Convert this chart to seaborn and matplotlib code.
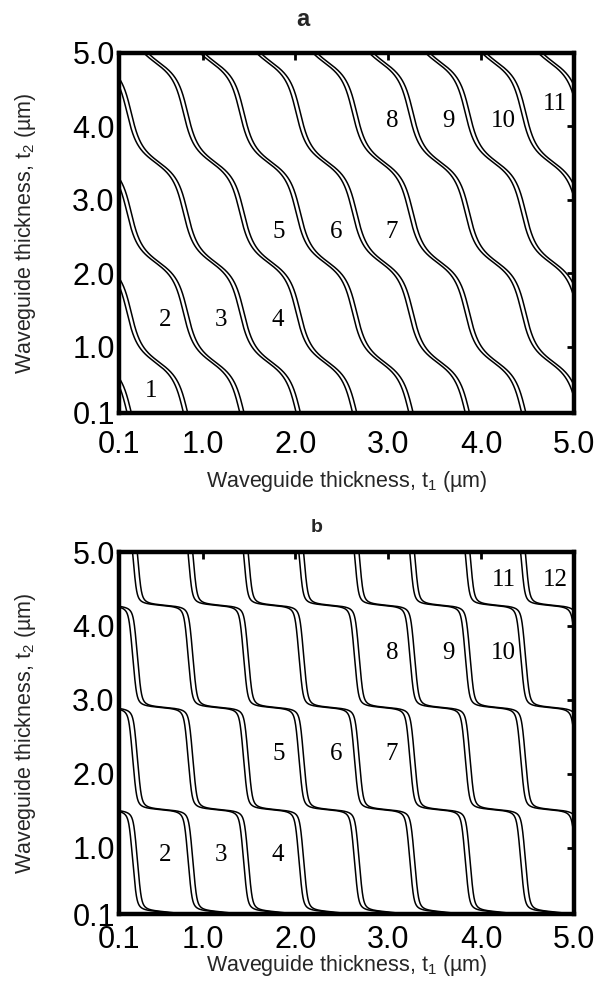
import numpy as np
import pandas as pd
import matplotlib
matplotlib.use("Agg")
import matplotlib.pyplot as plt
import seaborn as sns
import contourpy

# ---------------- data ----------------
tick_values = [0.1, 1.0, 2.0, 3.0, 4.0, 5.0]
tick_labels = ["0.1", "1.0", "2.0", "3.0", "4.0", "5.0"]

# panel a : mode boundaries (level n of the mode-count map)
a_levels = [0, 1, 2, 3, 4, 5, 6, 7, 8, 9, 10, 11]
a_pair_gap = 0.075           # splitting of each boundary into a line pair
a_period_t1 = 0.607          # um per mode in guide 1
a_offset_t1 = -0.095
a_period_t2 = 1.36           # um per mode in guide 2
a_step_t2 = 0.79
a_sharpness = 0.40
a_mix = 1.0
a_region_labels = ["1", "2", "3", "4", "5", "6", "7", "8", "9", "10", "11"]
a_label_t1 = [0.45, 0.60, 1.20, 1.815, 1.815, 2.435, 3.04, 3.04, 3.65, 4.24, 4.795]
a_label_t2 = [0.405, 1.37, 1.37, 1.37, 2.56, 2.56, 2.56, 4.07, 4.07, 4.07, 4.31]

# panel b
b_levels = [0, 1, 2, 3, 4, 5, 6, 7, 8, 9, 10, 11, 12]
b_pair_gap = 0.085
b_period_t1 = 0.597
b_offset_t1 = 0.0
b_period_t2 = 1.383
b_step_t2 = 0.13
b_sharpness = 0.91
b_mix = 0.88
b_region_labels = ["2", "3", "4", "5", "6", "7", "8", "9", "10", "11", "12"]
b_label_t1 = [0.60, 1.20, 1.815, 1.815, 2.435, 3.04, 3.04, 3.65, 4.24, 4.24, 4.795]
b_label_t2 = [0.90, 0.90, 0.90, 2.27, 2.27, 2.27, 3.63, 3.63, 3.63, 4.62, 4.62]

# ---------------- style ----------------
sns.set_style("white")
plt.rcParams["font.family"] = ["Liberation Sans", "DejaVu Sans"]
plt.rcParams["mathtext.fontset"] = "custom"
plt.rcParams["mathtext.rm"] = "Liberation Sans"
plt.rcParams["mathtext.it"] = "Liberation Sans:italic"


def staircase(x, r, m):
    stair = x + np.arctan2(r * np.sin(2 * np.pi * x), 1 - r * np.cos(2 * np.pi * x)) / np.pi
    return (1 - m) * x + m * stair


grid = np.linspace(0.1, 5.0, 1600)
T1, T2 = np.meshgrid(grid, grid)


def boundary_table(levels, gap, p1, o1, p2, s2, r, m, centered):
    field = (T1 - o1) / p1 + staircase((T2 - s2) / p2, r, m)
    gen = contourpy.contour_generator(grid, grid, field)
    rows = []
    seg = 0
    for n in levels:
        pair = (n - gap / 2, n + gap / 2) if centered else (n - gap, n)
        for lev in pair:
            for line in gen.lines(lev):
                if len(line) < 2:
                    continue
                rows.append(pd.DataFrame({"t1": line[:, 0], "t2": line[:, 1], "seg": seg}))
                seg += 1
    return pd.concat(rows, ignore_index=True)


fig = plt.figure(figsize=(5.98, 9.89), dpi=100)
W, H = 598.0, 989.0
ax_a = fig.add_axes([119 / W, 1 - 413 / H, 455 / W, 360 / H])
ax_b = fig.add_axes([119 / W, 1 - 914 / H, 455 / W, 362 / H])

panels = [
    (ax_a, boundary_table(a_levels, a_pair_gap, a_period_t1, a_offset_t1, a_period_t2, a_step_t2,
                          a_sharpness, a_mix, True),
     a_region_labels, a_label_t1, a_label_t2, 12),
    (ax_b, boundary_table(b_levels, b_pair_gap, b_period_t1, b_offset_t1, b_period_t2, b_step_t2,
                          b_sharpness, b_mix, False),
     b_region_labels, b_label_t1, b_label_t2, 8),
]

for ax, df, labs, lx, ly, xpad in panels:
    sns.lineplot(data=df, x="t1", y="t2", units="seg", estimator=None, sort=False,
                 color="black", linewidth=1.1, ax=ax, legend=False)
    for s, x, y in zip(labs, lx, ly):
        ax.text(x, y, s, ha="center", va="center", fontsize=18,
                family=["Liberation Serif", "DejaVu Serif"], color="black")
    ax.set_xlim(0.1, 5.0)
    ax.set_ylim(0.1, 5.0)
    ax.set_xticks(tick_values)
    ax.set_xticklabels(tick_labels)
    ax.set_yticks(tick_values)
    ax.set_yticklabels(tick_labels)
    ax.tick_params(direction="in", length=5, width=2, top=True, right=True,
                   labelsize=22, colors="black")
    ax.tick_params(axis="x", pad=xpad)
    ax.tick_params(axis="y", pad=3)
    for sp in ax.spines.values():
        sp.set_linewidth(3.2)
        sp.set_color("black")
        sp.set_visible(True)
    ax.set_xlabel("Waveguide thickness, t$_\\mathregular{1}$ (\u00b5m)", fontsize=15.5)
    ax.set_ylabel("Waveguide thickness, t$_\\mathregular{2}$ (\u00b5m)", fontsize=15.5)
    ax.yaxis.set_label_coords(-0.178, 0.5)

ax_a.xaxis.set_label_coords(0.5, (413 - 469) / 360.0)
ax_b.xaxis.set_label_coords(0.5, (914 - 953) / 362.0)
fig.text(303 / W, 1 - 20 / H, "a", ha="center", va="center", fontsize=17, fontweight="bold")
fig.text(317 / W, 1 - 528 / H, "b", ha="center", va="center", fontsize=14, fontweight="bold")

fig.savefig("out.png", dpi=100)
